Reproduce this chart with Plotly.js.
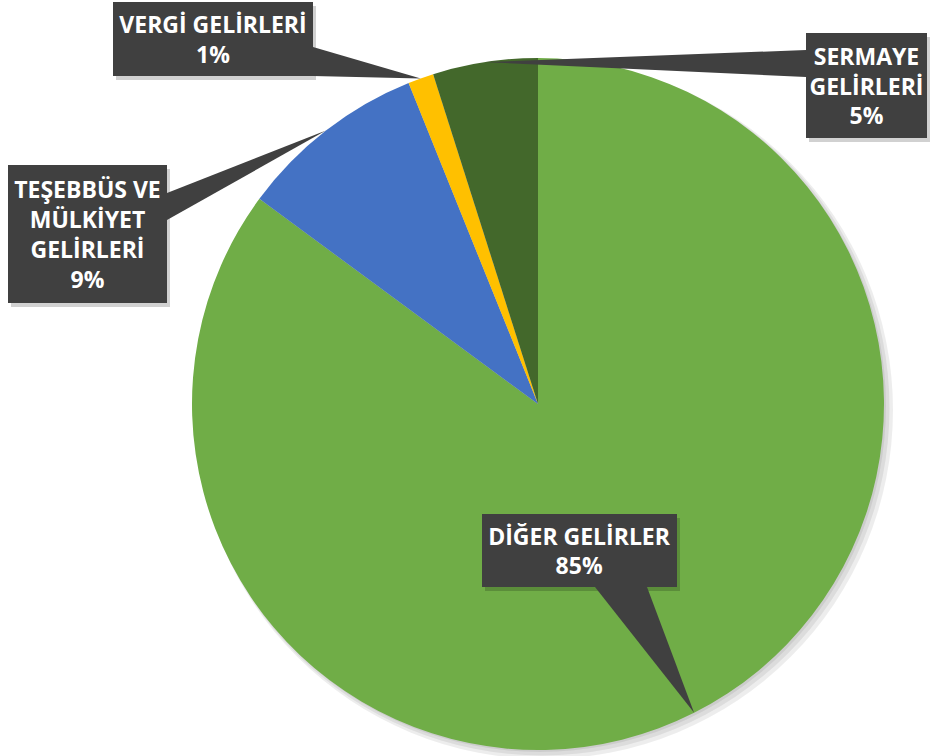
<!DOCTYPE html>
<html>
<head>
<meta charset="utf-8">
<script src="https://cdn.plot.ly/plotly-3.0.1.min.js"></script>
<style>html,body{margin:0;padding:0;background:#fff}#chart{width:931px;height:756px}</style>
</head>
<body>
<div id="chart"></div>
<script>
// ---- data ----
var categories = ["DİĞER GELİRLER", "TEŞEBBÜS VE MÜLKİYET GELİRLERİ", "VERGİ GELİRLERİ", "SERMAYE GELİRLERİ"];
var values = [85.1, 8.8, 1.2, 4.9];
var labelLines = ["DİĞER GELİRLER", "TEŞEBBÜS VE<br>MÜLKİYET<br>GELİRLERİ", "VERGİ GELİRLERİ", "SERMAYE<br>GELİRLERİ"];
var colors = ["#70AD47", "#4472C4", "#FFC000", "#43682B"];

// ---- layout constants (pixels) ----
var W = 931, H = 756;
var cx = 538, cy = 404, R = 346;
// callout boxes: left, top, width, height; wedge base points
var boxes = [
  {l: 482, t: 514, w: 195, h: 73, base: [[595, 587], [647, 587]]},
  {l: 8,   t: 165, w: 159, h: 138, base: [[167, 193], [167, 220]]},
  {l: 113, t: 2,   w: 200, h: 74, base: [[313, 47], [313, 76]]},
  {l: 806, t: 33,  w: 121, h: 105, base: [[806, 50], [806, 77]]}
];

function px(x) { return x / W; }
function py(y) { return 1 - y / H; }

var total = values.reduce(function (a, b) { return a + b; }, 0);
var annotations = [], shapes = [];

// soft pie shadow
for (var s = 0; s < 3; s++) {
  var off = 2 + s * 2, grow = s * 1.5;
  shapes.push({type: 'circle', xref: 'paper', yref: 'paper', layer: 'below',
    x0: px(cx - R - grow + off), x1: px(cx + R + grow + off),
    y0: py(cy + R + grow + off), y1: py(cy - R - grow + off),
    fillcolor: 'rgba(0,0,0,0.07)', line: {width: 0}});
}

var cum = 0;
for (var i = 0; i < values.length; i++) {
  var frac = values[i] / total;
  var mid = (cum + frac / 2) * 2 * Math.PI; // clockwise from 12 o'clock
  cum += frac;
  var tipX = cx + R * Math.sin(mid), tipY = cy - R * Math.cos(mid);
  var b = boxes[i];
  // box shadow
  shapes.push({type: 'rect', xref: 'paper', yref: 'paper',
    x0: px(b.l + 3), x1: px(b.l + b.w + 3), y0: py(b.t + b.h + 4), y1: py(b.t + 4),
    fillcolor: 'rgba(0,0,0,0.18)', line: {width: 0}});
  // wedge pointer
  var path = 'M' + px(b.base[0][0]) + ',' + py(b.base[0][1]) +
             ' L' + px(tipX) + ',' + py(tipY) +
             ' L' + px(b.base[1][0]) + ',' + py(b.base[1][1]) + ' Z';
  shapes.push({type: 'path', xref: 'paper', yref: 'paper', path: path,
    fillcolor: '#404040', line: {width: 0}});
  var pct = Math.round(frac * 100) + '%';
  annotations.push({
    xref: 'paper', yref: 'paper', x: px(b.l), y: py(b.t),
    xanchor: 'left', yanchor: 'top', showarrow: false,
    width: b.w, height: b.h, borderpad: 0, borderwidth: 0,
    bgcolor: '#404040', align: 'center', valign: 'middle',
    text: labelLines[i] + '<br>' + pct,
    font: {family: 'Open Sans, sans-serif', size: 23, color: '#ffffff', weight: 700}
  });
}

var trace = {
  type: 'pie',
  labels: categories,
  values: values,
  sort: false,
  direction: 'clockwise',
  rotation: 0,
  textinfo: 'none',
  hoverinfo: 'none',
  marker: {colors: colors, line: {width: 0}},
  domain: {x: [px(cx - R), px(cx + R)], y: [py(cy + R), py(cy - R)]},
  showlegend: false
};

var layout = {
  width: W, height: H,
  margin: {l: 0, r: 0, t: 0, b: 0},
  paper_bgcolor: '#ffffff',
  showlegend: false,
  shapes: shapes,
  annotations: annotations
};

Plotly.newPlot('chart', [trace], layout, {displayModeBar: false, staticPlot: true});
</script>
</body>
</html>
